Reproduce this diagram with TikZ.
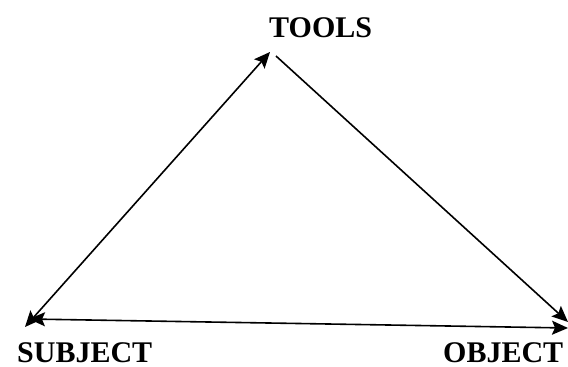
\documentclass[tikz,border=0pt]{standalone}
\usepackage{fontspec}
\setmainfont{Liberation Serif}
\usetikzlibrary{arrows.meta}
\begin{document}
\begin{tikzpicture}[x=1pt,y=-1pt,
  lbl/.style={font=\fontsize{30}{32}\selectfont\bfseries, inner sep=0pt},
  tip/.style={Stealth[length=16pt,width=14pt,inset=3pt]},
  conn/.style={line width=1.6pt, {Stealth[length=16pt,width=14pt,inset=3pt]}-{Stealth[length=16pt,width=14pt,inset=3pt]}}]
\useasboundingbox (0,0) rectangle (568,367);
\node[lbl, anchor=base west] (tools) at (269,37) {TOOLS};
\node[lbl, anchor=base west] (subject) at (17,362) {SUBJECT};
\node[lbl, anchor=base west] (object) at (443,362) {OBJECT};
\coordinate (t1) at (270,52);
\coordinate (t2) at (276,56);
\coordinate (s1) at (25,327);
\coordinate (s2) at (29,319);
\coordinate (o1) at (568,328);
\coordinate (o2) at (568,322);
\draw[conn] (t1) -- (s1);
\draw[conn] (s2) -- (o1);
\draw[line width=1.6pt, -{Stealth[length=16pt,width=14pt,inset=3pt]}] (t2) -- (o2);
\end{tikzpicture}
\end{document}
